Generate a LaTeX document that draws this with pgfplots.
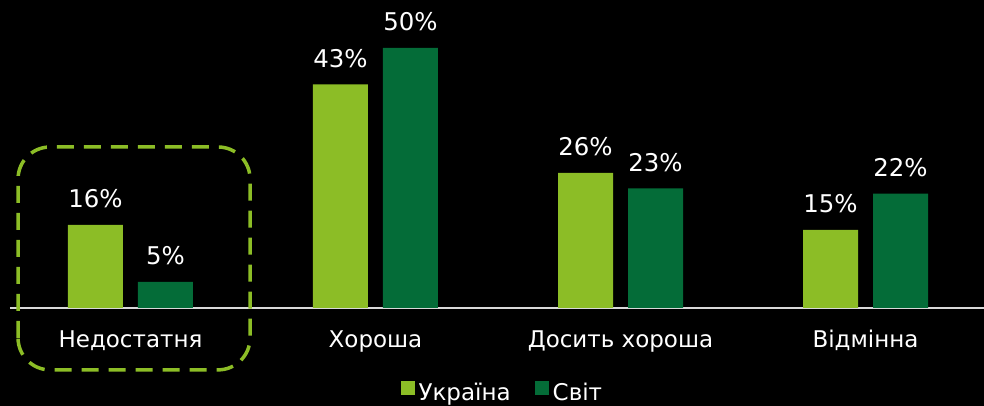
\documentclass[border=0pt]{standalone}
\usepackage{pgfplots}
\pgfplotsset{compat=1.18}
\usepackage{fontspec}
\setmainfont{DejaVu Sans}
\definecolor{ua}{HTML}{8CBD26}
\definecolor{world}{HTML}{046C38}
\definecolor{axisline}{HTML}{D9D9D9}
\pgfplotsset{sqlegend/.style={legend image code/.code={\fill[##1,draw=none] (0pt,-0.5pt) rectangle (7pt,6.5pt);}}}
\begin{document}
\fontsize{11.5}{13.8}\selectfont
\begin{tikzpicture}
\fill[black] (-5pt,-49pt) rectangle (487pt,154pt);
\begin{axis}[
  at={(0pt,0pt)}, anchor=south west,
  scale only axis, width=487pt, height=154pt,
  ymin=0, ymax=59.23, xmin=-0.4918, xmax=3.4837,
  clip=false,
  ybar=7.5pt, bar width=27.5pt,
  axis y line=none, axis x line*=bottom,
  x axis line style={draw=axisline, line width=1pt, -},
  xtick={0,1,2,3},
  xticklabels={Недостатня,Хороша,Досить хороша,Відмінна},
  major tick length=0pt,
  xticklabel style={anchor=base, yshift=-20pt, text=white, inner sep=0pt},
  nodes near coords={\pgfmathprintnumber{\pgfplotspointmeta}\%},
  nodes near coords style={text=white, anchor=base, yshift=8.5pt, inner sep=0pt,
    font=\fontsize{12.2}{14}\selectfont},
  /pgf/number format/assume math mode=true,
  legend columns=2,
  legend style={draw=none, fill=none, text=white, at={(0.5065,-0.23)}, anchor=north,
    inner sep=0pt, /tikz/every even column/.append style={column sep=10pt}},
  legend cell align=left,
]
\addplot[fill=ua, draw=none, sqlegend]
  coordinates {(0,16) (1,43) (2,26) (3,15)};
\addplot[fill=world, draw=none, sqlegend]
  coordinates {(0,5) (1,50) (2,23) (3,22)};
\legend{Україна, Світ}
\draw[ua, line width=1.75pt, dash pattern=on 8.5pt off 5pt, rounded corners=16pt]
  (axis cs:-0.459,-11.9) rectangle (axis cs:0.488,30.96);
\end{axis}
\pgfresetboundingbox
\path (-5pt,-49pt) rectangle (487pt,154pt);
\end{tikzpicture}
\end{document}
